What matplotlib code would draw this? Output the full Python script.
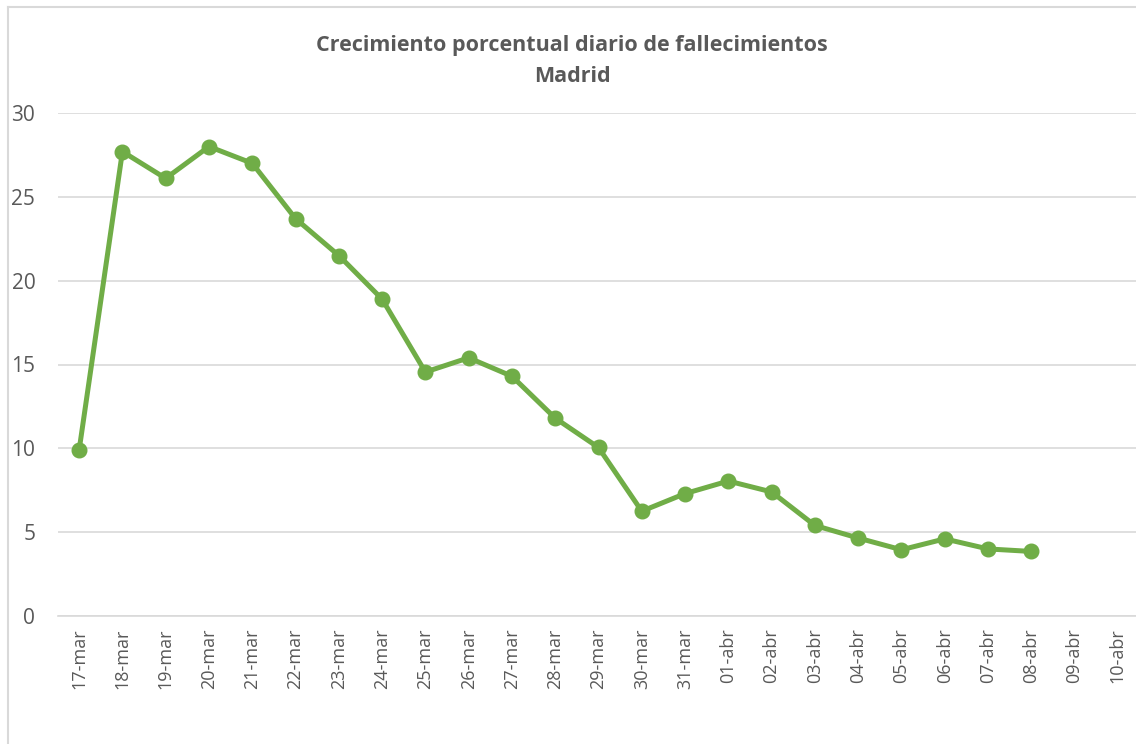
#!/usr/bin/env python3

import numpy as np
import matplotlib
matplotlib.use("Agg")
import matplotlib.pyplot as plt
from matplotlib.lines import Line2D

dates = ["17-mar", "18-mar", "19-mar", "20-mar", "21-mar", "22-mar", "23-mar",
         "24-mar", "25-mar", "26-mar", "27-mar", "28-mar", "29-mar", "30-mar",
         "31-mar", "01-abr", "02-abr", "03-abr", "04-abr", "05-abr", "06-abr",
         "07-abr", "08-abr", "09-abr", "10-abr"]
growth = [9.9, 27.7, 26.1, 28.0, 27.0, 23.7, 21.5, 18.9, 14.55, 15.4, 14.3,
          11.8, 10.05, 6.25, 7.3, 8.05, 7.4, 5.4, 4.65, 3.95, 4.6, 4.0, 3.85]

text_grey = "#595959"
grid_grey = "#d9d9d9"
green = "#70ad47"

plt.rcParams["font.family"] = ["Open Sans", "DejaVu Sans"]

fig = plt.figure(figsize=(11.36, 7.44), dpi=100)
ax = fig.add_axes([57.5 / 1136, (744 - 616) / 744, 1082 / 1136, 503 / 744])

x = np.arange(len(dates))
ax.plot(x[:len(growth)], growth, color=green, linewidth=3.6, marker="o",
        markersize=10.5, solid_joinstyle="round", zorder=3)

ax.set_xlim(-0.5, len(dates) - 0.5)
ax.set_ylim(0, 30)
ax.set_yticks(np.arange(0, 31, 5))
ax.set_xticks(x)
ax.set_xticklabels(dates, rotation=90)
ax.tick_params(axis="y", length=0, pad=16, labelsize=15, labelcolor=text_grey)
ax.tick_params(axis="x", length=0, pad=9, labelsize=13, labelcolor=text_grey)

for s in ["top", "right", "left"]:
    ax.spines[s].set_visible(False)
ax.spines["bottom"].set_color(grid_grey)
ax.spines["bottom"].set_linewidth(1.2)
ax.set_axisbelow(True)
ax.grid(axis="y", color=grid_grey, linewidth=1.2)

fig.text(572 / 1136, 1 - 45 / 744, "Crecimiento porcentual diario de fallecimientos",
         ha="center", va="center", fontsize=15.5, fontweight="bold", color=text_grey)
fig.text(572 / 1136, 1 - 77 / 744, "Madrid",
         ha="center", va="center", fontsize=15.5, fontweight="bold", color=text_grey)

# chart area border (only left and top edges visible in the crop)
fig.add_artist(Line2D([8 / 1136, 8 / 1136], [0, 1 - 7 / 744], transform=fig.transFigure,
                      color=grid_grey, linewidth=1.5))
fig.add_artist(Line2D([8 / 1136, 1], [1 - 7 / 744, 1 - 7 / 744], transform=fig.transFigure,
                      color=grid_grey, linewidth=1.5))

fig.savefig("out.png", dpi=100)
